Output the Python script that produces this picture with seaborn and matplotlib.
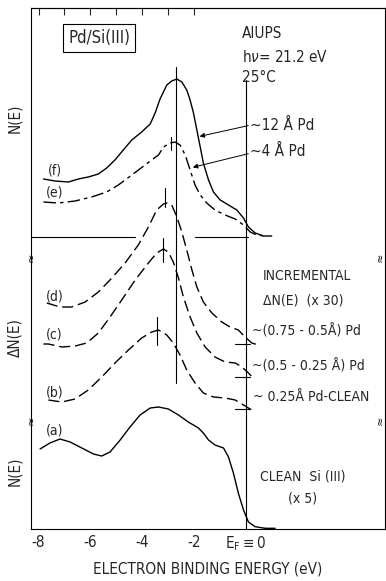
import numpy as np
import pandas as pd
import matplotlib
matplotlib.use("Agg")
import matplotlib.pyplot as plt
import seaborn as sns

# Curves: binding energy (eV) and N(E) in arbitrary units
f_E = [-7.81, -7.36, -6.85, -6.46, -6.08, -5.69, -5.37, -5.05, -4.73, -4.40, -4.02, -3.69, -3.50,
       -3.31, -3.05, -2.86, -2.66, -2.47, -2.28, -2.15, -2.02, -1.89, -1.76, -1.64, -1.44, -1.25,
       -0.99, -0.67, -0.35, -0.09, 0.10, 0.36, 0.68, 1.00]
f_N = [350, 348, 347, 350, 352, 355, 361, 369, 379, 389, 397, 405, 416,
       430, 444, 448, 450, 447, 439, 429, 416, 399, 382, 366, 349, 337,
       329, 324, 319, 311, 302, 296, 293, 293]

e_E = [-7.81, -7.24, -6.59, -5.95, -5.37, -4.92, -4.40, -3.89, -3.69, -3.37, -3.18, -2.92, -2.73,
       -2.54, -2.34, -2.15, -1.96, -1.76, -1.51, -1.19, -0.80, -0.41, -0.09, 0.17, 0.42, 0.75]
e_N = [327, 326, 328, 332, 337, 344, 354, 364, 368, 374, 382, 386, 387,
       384, 374, 359, 344, 334, 326, 319, 314, 310, 304, 297, 294, 293]

d_E = [-7.68, -7.17, -6.72, -6.20, -5.69, -5.17, -4.66, -4.15, -3.76, -3.44, -3.18, -3.03, -2.86,
       -2.66, -2.47, -2.28, -2.08, -1.89, -1.64, -1.31, -0.93, -0.61, -0.29, -0.03, 0.23, 0.49]
d_N = [226, 222, 222, 227, 237, 251, 266, 284, 302, 319, 325, 326, 324,
       312, 297, 279, 259, 242, 227, 216, 207, 202, 199, 192, 186, 184]

c_E = [-7.81, -7.62, -7.10, -6.59, -6.14, -5.69, -5.24, -4.79, -4.27, -3.76, -3.44, -3.18, -2.99,
       -2.80, -2.60, -2.41, -2.15, -1.89, -1.57, -1.19, -0.80, -0.41, -0.15, 0.10, 0.29]
c_N = [185, 185, 182, 183, 186, 196, 212, 229, 249, 266, 276, 280, 277,
       267, 251, 232, 212, 196, 182, 172, 167, 166, 162, 156, 151]

b_E = [-7.62, -7.10, -6.59, -6.08, -5.56, -5.05, -4.53, -4.02, -3.63, -3.37, -3.05, -2.80, -2.54,
       -2.28, -1.96, -1.64, -1.25, -0.80, -0.41, -0.09, 0.23]
b_N = [129, 127, 130, 139, 152, 166, 179, 191, 197, 199, 194, 186, 174,
       159, 146, 136, 132, 131, 129, 124, 119]

a_E = [-7.94, -7.56, -7.17, -6.78, -6.33, -5.88, -5.56, -5.24, -4.85, -4.47, -4.08, -3.69, -3.37,
       -2.99, -2.60, -2.22, -1.83, -1.64, -1.44, -1.19, -0.86, -0.67, -0.48, -0.29, -0.09, 0.10,
       0.36, 0.75, 1.13]
a_N = [80, 86, 90, 87, 81, 75, 73, 77, 89, 102, 114, 121, 122,
       120, 114, 107, 101, 96, 89, 84, 81, 72, 56, 36, 19, 7,
       2.3, 0.7, 0.7]

tick_pos = [-8, -6, -4, -2, 0]
tick_labels = ["-8", "-6", "-4", "-2", r"E$_\mathrm{F}$$\equiv$0"]
baselines = [185, 152, 120]   # zero lines of the difference curves (d), (c), (b)

sns.set_style("white")
plt.rcParams["font.family"] = ["DejaVu Sans Condensed", "Liberation Sans Narrow", "DejaVu Sans"]
plt.rcParams["font.stretch"] = "condensed"
FS = 10

fig = plt.figure(figsize=(3.86, 5.81), dpi=100)
ax = fig.add_axes([31 / 386, 1 - 529 / 581, 354 / 386, 521 / 581])

curves = [
    (f_E, f_N, "-"),
    (e_E, e_N, (0, (9, 3, 2.5, 3))),
    (d_E, d_N, (0, (8, 3.5))),
    (c_E, c_N, (0, (8, 3.5))),
    (b_E, b_N, (0, (8, 3.5))),
    (a_E, a_N, "-"),
]
for xs, ys, ls in curves:
    sns.lineplot(x=xs, y=ys, ax=ax, color="black", lw=1.0, linestyle=ls,
                 sort=False, estimator=None, solid_joinstyle="round")

# reference lines
ax.plot([0, 0], [0, 449], color="black", lw=0.8)
ax.plot([-2.70, -2.70], [146, 462], color="black", lw=0.8)
ax.plot([-8.3, -4.27], [292, 292], color="black", lw=0.8)
ax.plot([-1.96, 0.1], [292, 292], color="black", lw=0.8)
for yb in baselines:
    ax.plot([-0.41, 0.17], [yb, yb], color="black", lw=0.8)

# peak markers
ax.plot([-2.90, -2.90], [379, 392], color="black", lw=0.8)
ax.plot([-3.12, -3.12], [322, 341], color="black", lw=0.8)
ax.plot([-3.18, -3.18], [267, 291], color="black", lw=0.8)
ax.plot([-3.44, -3.44], [184, 212], color="black", lw=0.8)

# axis breaks
for yb in [272, 109]:
    ax.text(0.0, yb, "≈", transform=ax.get_yaxis_transform(), rotation=90,
            ha="center", va="center", fontsize=9, family="DejaVu Sans")
    ax.text(0.985, yb, "≈", transform=ax.get_yaxis_transform(), rotation=90,
            ha="center", va="center", fontsize=9, family="DejaVu Sans")

ax.set_xlim(-8.29, 5.37)
ax.set_ylim(0, 521)
ax.set_xticks(tick_pos)
ax.set_xticklabels(tick_labels)
ax.set_xticks(range(-8, 1), minor=True)
ax.set_yticks(baselines)
ax.set_yticklabels([])
ax.tick_params(axis="both", which="both", direction="in", length=5, width=0.8,
               labelsize=FS + 1, pad=4)
top = ax.secondary_xaxis("top")
top.set_xticks(range(-8, -1))
top.set_xticklabels([])
top.tick_params(direction="in", length=5, width=0.8)
for s in ax.spines.values():
    s.set_linewidth(0.8)
    s.set_color("black")
top.spines["top"].set_linewidth(0.8)
ax.set_xlabel("ELECTRON BINDING ENERGY (eV)", fontsize=FS + 1, labelpad=6)
ax.set_ylabel("")

# annotations
ax.text(-5.66, 491, "Pd/Si(III)", ha="center", va="center", fontsize=FS + 2,
        bbox=dict(boxstyle="square,pad=0.3", fc="white", ec="black", lw=0.8))
ax.text(-0.14, 495, "AIUPS", ha="left", va="center", fontsize=FS + 1)
ax.text(-0.14, 472, "h$\\nu$= 21.2 eV", ha="left", va="center", fontsize=FS + 1)
ax.text(-0.14, 452, "25°C", ha="left", va="center", fontsize=FS + 1)
ax.text(0.17, 404, "~12 Å Pd", ha="left", va="center", fontsize=FS + 1)
ax.text(0.17, 378, "~4 Å Pd", ha="left", va="center", fontsize=FS + 1)
ax.annotate("", xy=(-1.89, 392), xytext=(0.2, 404),
            arrowprops=dict(arrowstyle="-|>", lw=0.7, color="black", mutation_scale=7))
ax.annotate("", xy=(-2.15, 361), xytext=(0.2, 376),
            arrowprops=dict(arrowstyle="-|>", lw=0.7, color="black", mutation_scale=7))

for lab, yy in zip(["(f)", "(e)", "(d)", "(c)", "(b)", "(a)"], [358, 336, 233, 194, 137, 98]):
    ax.text(-7.38, yy, lab, ha="center", va="center", fontsize=FS)

ax.text(0.67, 253, "INCREMENTAL", ha="left", va="center", fontsize=FS)
ax.text(0.67, 228, "ΔN(E)  (x 30)", ha="left", va="center", fontsize=FS)
ax.text(0.24, 198, "~(0.75 - 0.5Å) Pd", ha="left", va="center", fontsize=FS)
ax.text(0.24, 163, "~(0.5 - 0.25 Å) Pd", ha="left", va="center", fontsize=FS)
ax.text(0.28, 132, "~ 0.25Å Pd-CLEAN", ha="left", va="center", fontsize=FS)
ax.text(0.55, 53, "CLEAN  Si (III)", ha="left", va="center", fontsize=FS)
ax.text(1.63, 31, "(x 5)", ha="left", va="center", fontsize=FS)

fig.text(15 / 386, 1 - 118 / 581, "N(E)", rotation=90, ha="center", va="center", fontsize=FS + 1)
fig.text(15 / 386, 1 - 338 / 581, "ΔN(E)", rotation=90, ha="center", va="center", fontsize=FS + 1)
fig.text(15 / 386, 1 - 471 / 581, "N(E)", rotation=90, ha="center", va="center", fontsize=FS + 1)

fig.savefig("out.png", dpi=100, facecolor="white")
